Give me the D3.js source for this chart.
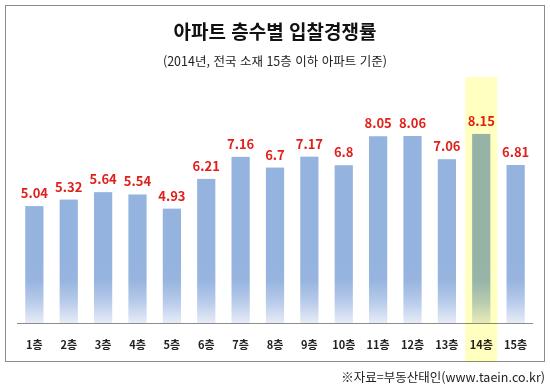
<!DOCTYPE html>
<html lang="ko">
<head>
<meta charset="UTF-8">
<title>아파트 층수별 입찰경쟁률</title>
<script src="https://cdnjs.cloudflare.com/ajax/libs/d3/7.8.5/d3.min.js"></script>
<style>
    body { margin: 0; background: #fff; }
    text { font-family: "Noto Sans CJK KR", "Noto Sans", sans-serif; }
</style>
</head>
<body>
<svg width="550" height="388"></svg>
<script>
    const floors = ["1층", "2층", "3층", "4층", "5층", "6층", "7층", "8층", "9층", "10층", "11층", "12층", "13층", "14층", "15층"];
    const rates = [5.04, 5.32, 5.64, 5.54, 4.93, 6.21, 7.16, 6.7, 7.17, 6.8, 8.05, 8.06, 7.06, 8.15, 6.81];
    const highlight = "14층";

    const svg = d3.select("svg");
    const baseY = 323;

    // frame
    svg.append("rect")
        .attr("x", 5.5).attr("y", 5.5)
        .attr("width", 539).attr("height", 356)
        .attr("fill", "none").attr("stroke", "#8c8c8c").attr("stroke-width", 1);

    const x = d3.scaleBand().domain(floors).range([17, 533]).paddingInner(0.47).paddingOuter(0.24);
    const y = d3.scaleLinear().domain([0, 10]).range([baseY, baseY - 232]);

    const defs = svg.append("defs");
    const grad = defs.append("linearGradient")
        .attr("id", "barGrad").attr("gradientUnits", "userSpaceOnUse")
        .attr("x1", 0).attr("x2", 0).attr("y1", baseY - 60).attr("y2", baseY);
    grad.append("stop").attr("offset", "0").attr("stop-color", "#95b3df");
    grad.append("stop").attr("offset", "0.3").attr("stop-color", "#98b5e0");
    grad.append("stop").attr("offset", "0.65").attr("stop-color", "#b8cbea");
    grad.append("stop").attr("offset", "1").attr("stop-color", "#e6ecf7");

    svg.append("g").selectAll("rect")
        .data(rates)
        .join("rect")
        .attr("x", (d, i) => x(floors[i]))
        .attr("y", d => y(d))
        .attr("width", x.bandwidth())
        .attr("height", d => baseY - y(d))
        .attr("fill", "url(#barGrad)");

    // axis line
    svg.append("line")
        .attr("x1", 17).attr("x2", 533)
        .attr("y1", baseY + 0.5).attr("y2", baseY + 0.5)
        .attr("stroke", "#8c8c8c");

    // value labels
    svg.append("g").selectAll("text")
        .data(rates)
        .join("text")
        .attr("x", (d, i) => x(floors[i]) + x.bandwidth() / 2)
        .attr("y", d => y(d) - 8)
        .attr("text-anchor", "middle")
        .attr("font-size", 13)
        .attr("font-weight", "bold")
        .attr("fill", "#e0201b")
        .text(d => d);

    // category labels
    svg.append("g").selectAll("text")
        .data(floors)
        .join("text")
        .attr("x", d => x(d) + x.bandwidth() / 2)
        .attr("y", 349)
        .attr("text-anchor", "middle")
        .attr("font-size", 11)
        .attr("font-weight", "bold")
        .attr("fill", "#222")
        .text(d => d);

    // highlight band for 14층
    svg.append("rect")
        .attr("x", x(highlight) + x.bandwidth() / 2 - 16)
        .attr("y", 77)
        .attr("width", 32)
        .attr("height", 285)
        .attr("fill", "#ffffbf")
        .style("mix-blend-mode", "multiply");

    // titles
    svg.append("text")
        .attr("x", 275).attr("y", 39)
        .attr("text-anchor", "middle")
        .attr("font-size", 19).attr("font-weight", "bold")
        .attr("fill", "#111")
        .text("아파트 층수별 입찰경쟁률");

    svg.append("text")
        .attr("x", 275).attr("y", 66)
        .attr("text-anchor", "middle")
        .attr("font-size", 12.5)
        .attr("fill", "#222")
        .text("(2014년, 전국 소재 15층 이하 아파트 기준)");

    svg.append("text")
        .attr("x", 545).attr("y", 382)
        .attr("text-anchor", "end")
        .attr("font-size", 12.5)
        .attr("fill", "#222")
        .text("※자료=부동산태인(www.taein.co.kr)");
</script>
</body>
</html>
